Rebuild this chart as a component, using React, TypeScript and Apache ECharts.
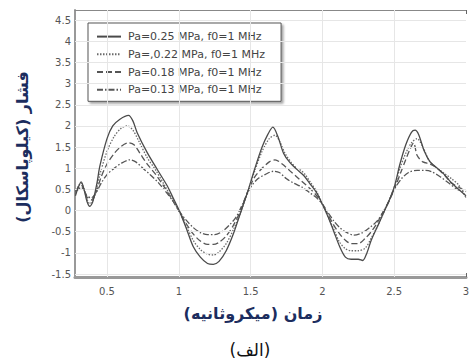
import React, { useEffect, useRef } from "react";
import * as echarts from "echarts";

const xTicks = [0.5, 1, 1.5, 2, 2.5, 3];
const yTicks = [-1.5, -1, -0.5, 0, 0.5, 1, 1.5, 2, 2.5, 3, 3.5, 4, 4.5];

const seriesNames = [
  "Pa=0.25 MPa, f0=1 MHz",
  "Pa=,0.22 MPa, f0=1 MHz",
  "Pa=0.18 MPa, f0=1 MHz",
  "Pa=0.13 MPa, f0=1 MHz",
];

const pa025: [number, number][] = [
  [0.28, 0.35], [0.3, 0.55], [0.32, 0.68], [0.34, 0.5], [0.36, 0.22], [0.38, 0.1], [0.4, 0.2],
  [0.43, 0.65], [0.45, 1.05], [0.5, 1.7], [0.54, 2.0], [0.59, 2.16], [0.65, 2.25], [0.68, 2.12],
  [0.71, 1.84], [0.78, 1.37], [0.85, 0.97], [0.92, 0.58], [0.96, 0.3], [1.0, 0.02],
  [1.05, -0.4], [1.1, -0.85], [1.15, -1.1], [1.2, -1.25], [1.24, -1.27], [1.28, -1.2],
  [1.33, -0.95], [1.38, -0.55], [1.43, -0.05], [1.48, 0.45], [1.53, 1.0], [1.58, 1.5],
  [1.62, 1.8], [1.655, 1.97], [1.69, 1.75], [1.73, 1.35], [1.77, 1.15], [1.82, 0.98],
  [1.87, 0.83], [1.91, 0.65], [1.96, 0.42], [2.0, 0.15], [2.04, -0.15], [2.08, -0.5],
  [2.12, -0.85], [2.16, -1.1], [2.2, -1.15], [2.25, -1.15], [2.28, -1.18], [2.31, -1.0],
  [2.34, -0.7], [2.38, -0.4], [2.42, -0.1], [2.46, 0.2], [2.5, 0.55], [2.54, 1.1],
  [2.58, 1.55], [2.62, 1.85], [2.645, 1.9], [2.67, 1.8], [2.71, 1.4], [2.75, 1.15],
  [2.8, 1.0], [2.85, 0.85], [2.9, 0.65], [2.95, 0.5], [3.0, 0.35],
];

const pa022: [number, number][] = [
  [0.28, 0.4], [0.3, 0.58], [0.32, 0.65], [0.34, 0.5], [0.36, 0.28], [0.38, 0.16], [0.41, 0.3],
  [0.45, 0.85], [0.5, 1.4], [0.55, 1.75], [0.6, 1.95], [0.64, 2.0], [0.68, 1.9], [0.72, 1.65],
  [0.78, 1.25], [0.84, 0.95], [0.9, 0.6], [0.95, 0.3], [1.0, 0.0], [1.05, -0.35], [1.1, -0.7],
  [1.15, -0.92], [1.2, -1.03], [1.24, -1.05], [1.28, -0.98], [1.33, -0.78], [1.38, -0.45],
  [1.43, -0.05], [1.48, 0.45], [1.53, 0.95], [1.58, 1.4], [1.63, 1.7], [1.67, 1.78],
  [1.7, 1.65], [1.74, 1.35], [1.78, 1.15], [1.82, 1.0], [1.85, 0.95], [1.88, 0.85],
  [1.92, 0.65], [1.96, 0.45], [2.0, 0.15], [2.04, -0.15], [2.08, -0.45], [2.12, -0.75],
  [2.16, -0.9], [2.2, -0.95], [2.25, -0.95], [2.3, -0.88], [2.34, -0.65], [2.38, -0.4],
  [2.42, -0.1], [2.46, 0.2], [2.5, 0.55], [2.54, 1.0], [2.58, 1.35], [2.62, 1.6],
  [2.66, 1.7], [2.7, 1.5], [2.74, 1.2], [2.78, 1.05], [2.82, 0.95], [2.86, 0.85],
  [2.9, 0.75], [2.95, 0.6], [3.0, 0.3],
];

const pa018: [number, number][] = [
  [0.28, 0.45], [0.3, 0.55], [0.32, 0.6], [0.34, 0.5], [0.36, 0.32], [0.39, 0.25], [0.42, 0.4],
  [0.46, 0.8], [0.5, 1.1], [0.55, 1.35], [0.6, 1.52], [0.65, 1.6], [0.69, 1.55], [0.73, 1.35],
  [0.78, 1.1], [0.84, 0.85], [0.9, 0.55], [0.95, 0.28], [1.0, 0.0], [1.05, -0.3], [1.1, -0.55],
  [1.15, -0.72], [1.2, -0.8], [1.24, -0.8], [1.28, -0.75], [1.33, -0.6], [1.38, -0.35],
  [1.43, 0.0], [1.48, 0.45], [1.53, 0.8], [1.58, 1.0], [1.63, 1.15], [1.67, 1.2], [1.72, 1.1],
  [1.77, 0.95], [1.82, 0.8], [1.87, 0.65], [1.92, 0.5], [1.96, 0.35], [2.0, 0.15],
  [2.04, -0.1], [2.08, -0.35], [2.12, -0.55], [2.16, -0.7], [2.2, -0.78], [2.25, -0.78],
  [2.3, -0.65], [2.34, -0.5], [2.38, -0.3], [2.42, -0.05], [2.46, 0.2], [2.5, 0.5],
  [2.54, 0.85], [2.58, 1.2], [2.61, 1.45], [2.635, 1.6], [2.66, 1.3], [2.7, 1.15],
  [2.75, 1.1], [2.8, 1.0], [2.86, 0.8], [2.9, 0.65], [2.95, 0.55], [3.0, 0.45],
];

const pa013: [number, number][] = [
  [0.28, 0.45], [0.3, 0.5], [0.32, 0.55], [0.34, 0.48], [0.36, 0.35], [0.39, 0.3], [0.42, 0.4],
  [0.46, 0.65], [0.5, 0.85], [0.55, 1.0], [0.6, 1.12], [0.66, 1.2], [0.7, 1.15], [0.75, 1.0],
  [0.8, 0.85], [0.86, 0.65], [0.92, 0.4], [0.96, 0.22], [1.0, 0.0], [1.05, -0.22], [1.1, -0.4],
  [1.15, -0.52], [1.2, -0.57], [1.25, -0.57], [1.3, -0.5], [1.35, -0.35], [1.4, -0.15],
  [1.45, 0.2], [1.5, 0.55], [1.55, 0.75], [1.6, 0.85], [1.66, 0.93], [1.7, 0.9], [1.75, 0.75],
  [1.8, 0.65], [1.86, 0.55], [1.92, 0.4], [1.96, 0.3], [2.0, 0.15], [2.04, -0.05],
  [2.08, -0.25], [2.12, -0.4], [2.16, -0.5], [2.22, -0.58], [2.28, -0.52], [2.33, -0.4],
  [2.38, -0.25], [2.42, -0.05], [2.46, 0.2], [2.5, 0.5], [2.55, 0.75], [2.6, 0.9],
  [2.66, 0.95], [2.72, 0.95], [2.76, 0.92], [2.82, 0.8], [2.88, 0.65], [2.94, 0.5], [3.0, 0.45],
];

const seriesData = [pa025, pa022, pa018, pa013];
const lineTypes: any[] = ["solid", [1.5, 1.5], [6, 3], [6, 2, 1.5, 2]];
const lineColors = ["#4a4a4a", "#6a6a6a", "#555555", "#555555"];

const xLabel = "زمان (میکروثانیه)";
const yLabel = "فشار (کیلوپاسکال)";
const caption = "(الف)";

export default function App() {
  const ref = useRef<HTMLDivElement>(null);
  useEffect(() => {
    if (!ref.current) return;
    const chart = echarts.init(ref.current, undefined, { renderer: "svg" });
    const labelStyle = { color: "#555", fontSize: 10, fontFamily: "DejaVu Sans" };
    chart.setOption({
      animation: false,
      backgroundColor: "#fff",
      grid: { left: 75, width: 391, top: 10, height: 267, containLabel: false, outerBoundsMode: "none" },
      legend: {
        show: true,
        orient: "vertical",
        left: 88,
        top: 23,
        padding: [8, 16, 6, 8],
        itemGap: 6.5,
        itemWidth: 24,
        itemHeight: 14,
        backgroundColor: "#fff",
        borderColor: "#555",
        borderWidth: 1,
        shadowColor: "rgba(0,0,0,0.35)",
        shadowOffsetX: 2,
        shadowOffsetY: 2,
        shadowBlur: 2,
        itemStyle: { opacity: 0 },
        textStyle: { color: "#444", fontSize: 11, fontFamily: "DejaVu Sans", padding: [0, 0, 0, 2] },
        data: seriesNames,
      },
      xAxis: [
        {
          type: "value",
          min: 0.277,
          max: 3.0,
          position: "bottom",
          axisLine: { show: true, onZero: false, lineStyle: { color: "#999", width: 3 } },
          axisTick: { show: true, inside: true, length: 4, customValues: xTicks, lineStyle: { color: "#666" } },
          axisLabel: {
            ...labelStyle,
            margin: 9,
            customValues: xTicks,
            formatter: (v: number) => String(v),
          },
          splitLine: { show: false },
        },
        {
          type: "value",
          min: 0.277,
          max: 3.0,
          position: "top",
          axisLine: { show: true, onZero: false, lineStyle: { color: "#888", width: 1 } },
          axisTick: { show: true, inside: true, length: 4, customValues: xTicks, lineStyle: { color: "#666" } },
          axisLabel: { show: false },
          splitLine: { show: false },
        },
      ],
      yAxis: {
        type: "value",
        min: -1.57,
        max: 4.74,
        axisLine: { show: true, onZero: false, lineStyle: { color: "#999", width: 2 } },
        axisTick: { show: true, inside: true, length: 4, customValues: yTicks, lineStyle: { color: "#666" } },
        axisLabel: {
          ...labelStyle,
          margin: 4,
          customValues: yTicks,
          formatter: (v: number) => String(v),
        },
        splitLine: { show: false },
      },
      graphic: [
        {
          type: "text",
          x: 253,
          y: 313,
          style: {
            text: xLabel,
            fill: "#1c2d5e",
            font: "bold 16px 'DejaVu Sans'",
            align: "center",
            verticalAlign: "middle",
          },
          z: 10,
        },
        {
          type: "text",
          x: 22,
          y: 147,
          rotation: Math.PI / 2,
          style: {
            text: yLabel,
            fill: "#1c2d5e",
            font: "bold 16px 'DejaVu Sans'",
            align: "center",
            verticalAlign: "middle",
          },
          z: 10,
        },
        {
          type: "text",
          x: 250,
          y: 350,
          style: {
            text: caption,
            fill: "#111",
            font: "17px 'DejaVu Sans'",
            align: "center",
            verticalAlign: "middle",
          },
          z: 10,
        },
      ],
      series: [
        ...seriesData.map((d, i) => ({
          type: "line",
          name: seriesNames[i],
          data: d,
          smooth: 0.3,
          showSymbol: false,
          symbol: "none",
          lineStyle: { color: lineColors[i], width: 1.3, type: lineTypes[i] },
          itemStyle: { color: lineColors[i] },
          z: 5 - i,
        })),
        {
          type: "line",
          name: "grid",
          data: [],
          silent: true,
          markLine: {
            silent: true,
            symbol: "none",
            label: { show: false },
            lineStyle: { color: "#e6e6e6", width: 1, type: "solid" },
            data: [
              ...xTicks.slice(0, 5).map((v) => ({ xAxis: v })),
              ...yTicks.map((v) => ({ yAxis: v })),
            ],
          },
          z: 0,
        },
      ],
    });
    return () => chart.dispose();
  }, []);
  return <div ref={ref} style={{ width: 471, height: 361, position: "absolute", left: 0, top: 0 }} />;
}
